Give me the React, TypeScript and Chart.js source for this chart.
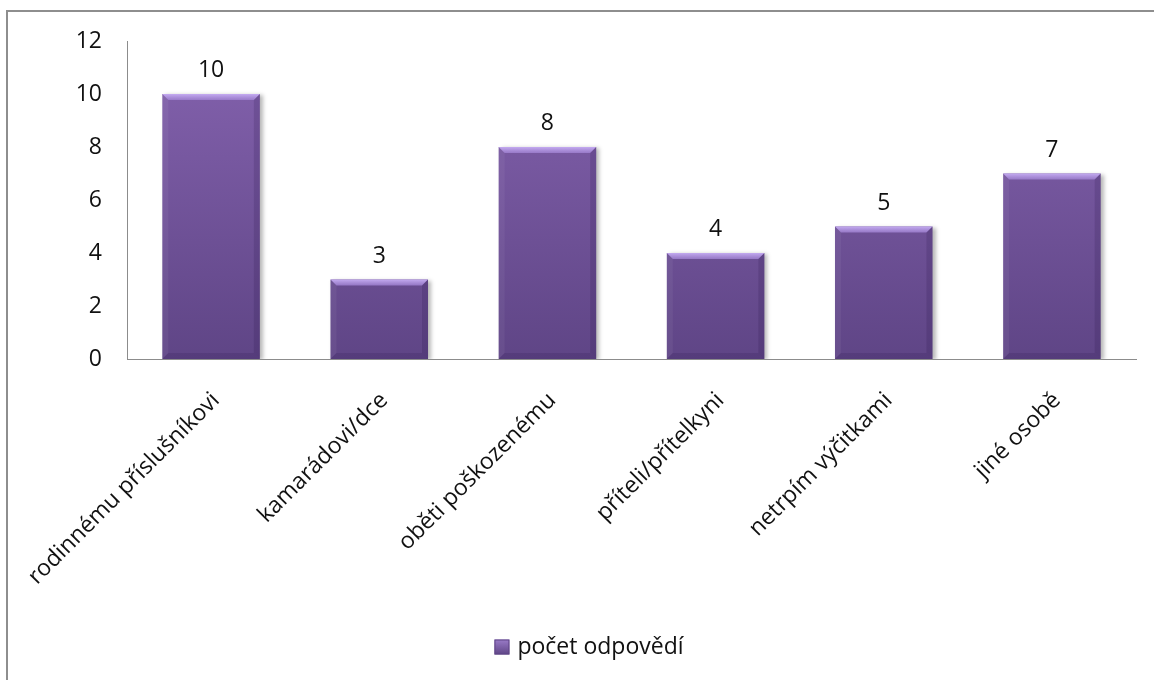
import React, { useEffect, useRef } from "react";
import { Chart, registerables } from "chart.js";

Chart.register(...registerables);

const categories = [
  "rodinnému příslušníkovi",
  "kamarádovi/dce",
  "oběti poškozenému",
  "příteli/přítelkyni",
  "netrpím výčitkami",
  "jiné osobě",
];
const values = [10, 3, 8, 4, 5, 7];
const seriesName = "počet odpovědí";
const yTicks = [0, 2, 4, 6, 8, 10, 12];

const FONT = "'Open Sans', 'DejaVu Sans', sans-serif";

const shadowPlugin = {
  id: "barShadow",
  beforeDatasetsDraw(chart: any) {
    const ctx = chart.ctx;
    ctx.save();
    ctx.shadowColor = "rgba(0,0,0,0.28)";
    ctx.shadowBlur = 4;
    ctx.shadowOffsetX = 3;
    ctx.shadowOffsetY = 1;
  },
  afterDatasetsDraw(chart: any) {
    const ctx = chart.ctx;
    ctx.restore();
    const meta = chart.getDatasetMeta(0);
    meta.data.forEach((bar: any, i: number) => {
      const p = bar.getProps(["x", "y", "base", "width"], true);
      const l = p.x - p.width / 2;
      const r = p.x + p.width / 2;
      const t = p.y;
      const bt = p.base;
      const b = 6;
      ctx.save();
      ctx.beginPath();
      ctx.moveTo(l, t);
      ctx.lineTo(r, t);
      ctx.lineTo(r - b, t + b);
      ctx.lineTo(l + b, t + b);
      ctx.closePath();
      const tg = ctx.createLinearGradient(0, t, 0, t + b);
      tg.addColorStop(0, "rgba(200,175,245,0.95)");
      tg.addColorStop(1, "rgba(160,130,210,0.8)");
      ctx.fillStyle = tg;
      ctx.fill();
      ctx.beginPath();
      ctx.moveTo(l, t);
      ctx.lineTo(l + b, t + b);
      ctx.lineTo(l + b, bt - b);
      ctx.lineTo(l, bt);
      ctx.closePath();
      ctx.fillStyle = "rgba(255,255,255,0.05)";
      ctx.fill();
      ctx.beginPath();
      ctx.moveTo(r, t);
      ctx.lineTo(r - b, t + b);
      ctx.lineTo(r - b, bt - b);
      ctx.lineTo(r, bt);
      ctx.closePath();
      ctx.fillStyle = "rgba(30,10,60,0.16)";
      ctx.fill();
      ctx.beginPath();
      ctx.moveTo(l, bt);
      ctx.lineTo(l + b, bt - b);
      ctx.lineTo(r - b, bt - b);
      ctx.lineTo(r, bt);
      ctx.closePath();
      ctx.fillStyle = "rgba(30,10,60,0.14)";
      ctx.fill();
      ctx.restore();
      ctx.save();
      ctx.font = `23px ${FONT}`;
      ctx.fillStyle = "#111";
      ctx.textAlign = "center";
      ctx.textBaseline = "alphabetic";
      ctx.fillText(String(values[i]), p.x, t - 17);
      ctx.restore();
    });
  },
};

const legendPlugin = {
  id: "customLegend",
  afterDraw(chart: any) {
    const ctx = chart.ctx;
    ctx.save();
    ctx.font = `23px ${FONT}`;
    const tw = ctx.measureText(seriesName).width;
    const box = 15;
    const gap = 8;
    const total = box + gap + tw;
    const cx = (chart.width + 24) / 2;
    const cy = chart.height - 33;
    const x0 = cx - total / 2;
    const g = ctx.createLinearGradient(0, cy - box / 2, 0, cy + box / 2);
    g.addColorStop(0, "#9a7bc8");
    g.addColorStop(1, "#5f4586");
    ctx.fillStyle = g;
    ctx.fillRect(x0, cy - box / 2, box, box);
    ctx.strokeStyle = "#5f4586";
    ctx.lineWidth = 1;
    ctx.strokeRect(x0 + 0.5, cy - box / 2 + 0.5, box - 1, box - 1);
    ctx.fillStyle = "#111";
    ctx.textAlign = "left";
    ctx.textBaseline = "middle";
    ctx.fillText(seriesName, x0 + box + gap, cy);
    ctx.restore();
  },
};

export default function App() {
  const ref = useRef<HTMLCanvasElement | null>(null);
  useEffect(() => {
    if (!ref.current) return;
    const chart = new Chart(ref.current, {
      type: "bar",
      data: {
        labels: categories,
        datasets: [
          {
            label: seriesName,
            data: values,
            backgroundColor: (c: any) => {
              const ch = c.chart;
              const area = ch.chartArea;
              if (!area) return "#7a5da3";
              const g = ch.ctx.createLinearGradient(0, area.top, 0, area.bottom);
              g.addColorStop(0, "#8563af");
              g.addColorStop(1, "#5f4586");
              return g;
            },
            borderWidth: 0,
            categoryPercentage: 1,
            barPercentage: 0.58,
          },
        ],
      },
      options: {
        responsive: false,
        animation: false,
        layout: { padding: { top: 41, left: 0, right: 18, bottom: 50 } },
        plugins: {
          tooltip: { enabled: false },
          legend: { display: false },
        },
        scales: {
          x: {
            grid: { display: false, drawTicks: false },
            border: { display: true, color: "#8c8c8c", width: 1 },
            ticks: {
              autoSkip: false,
              maxRotation: 45,
              minRotation: 45,
              padding: 28,
              labelOffset: 5,
              color: "#111",
              font: { family: FONT, size: 23 },
            },
            afterFit: (s: any) => {
              s.height = 271;
              s.paddingLeft = 0;
              s.paddingRight = 0;
            },
          },
          y: {
            min: 0,
            max: 12,
            grid: { display: false, drawTicks: false },
            border: { display: true, color: "#8c8c8c", width: 1 },
            ticks: {
              stepSize: 2,
              padding: 25,
              color: "#111",
              font: { family: FONT, size: 23 },
              callback: (v: any) => (yTicks.includes(Number(v)) ? String(v) : ""),
            },
            afterFit: (s: any) => {
              s.width = 127;
              s.paddingTop = 0;
              s.paddingBottom = 0;
            },
          },
        },
      },
      plugins: [shadowPlugin, legendPlugin],
    });
    return () => chart.destroy();
  }, []);

  return (
    <div
      style={{
        position: "fixed",
        left: 0,
        top: 0,
        width: 1154,
        height: 680,
        overflow: "hidden",
        background: "#fff",
      }}
    >
      <canvas ref={ref} width={1154} height={680} style={{ position: "absolute", left: 0, top: 0 }} />
      <div
        style={{
          position: "absolute",
          left: 6,
          top: 10,
          width: 1200,
          height: 700,
          borderTop: "2px solid #8e8e8e",
          borderLeft: "2px solid #8e8e8e",
          pointerEvents: "none",
        }}
      />
    </div>
  );
}
